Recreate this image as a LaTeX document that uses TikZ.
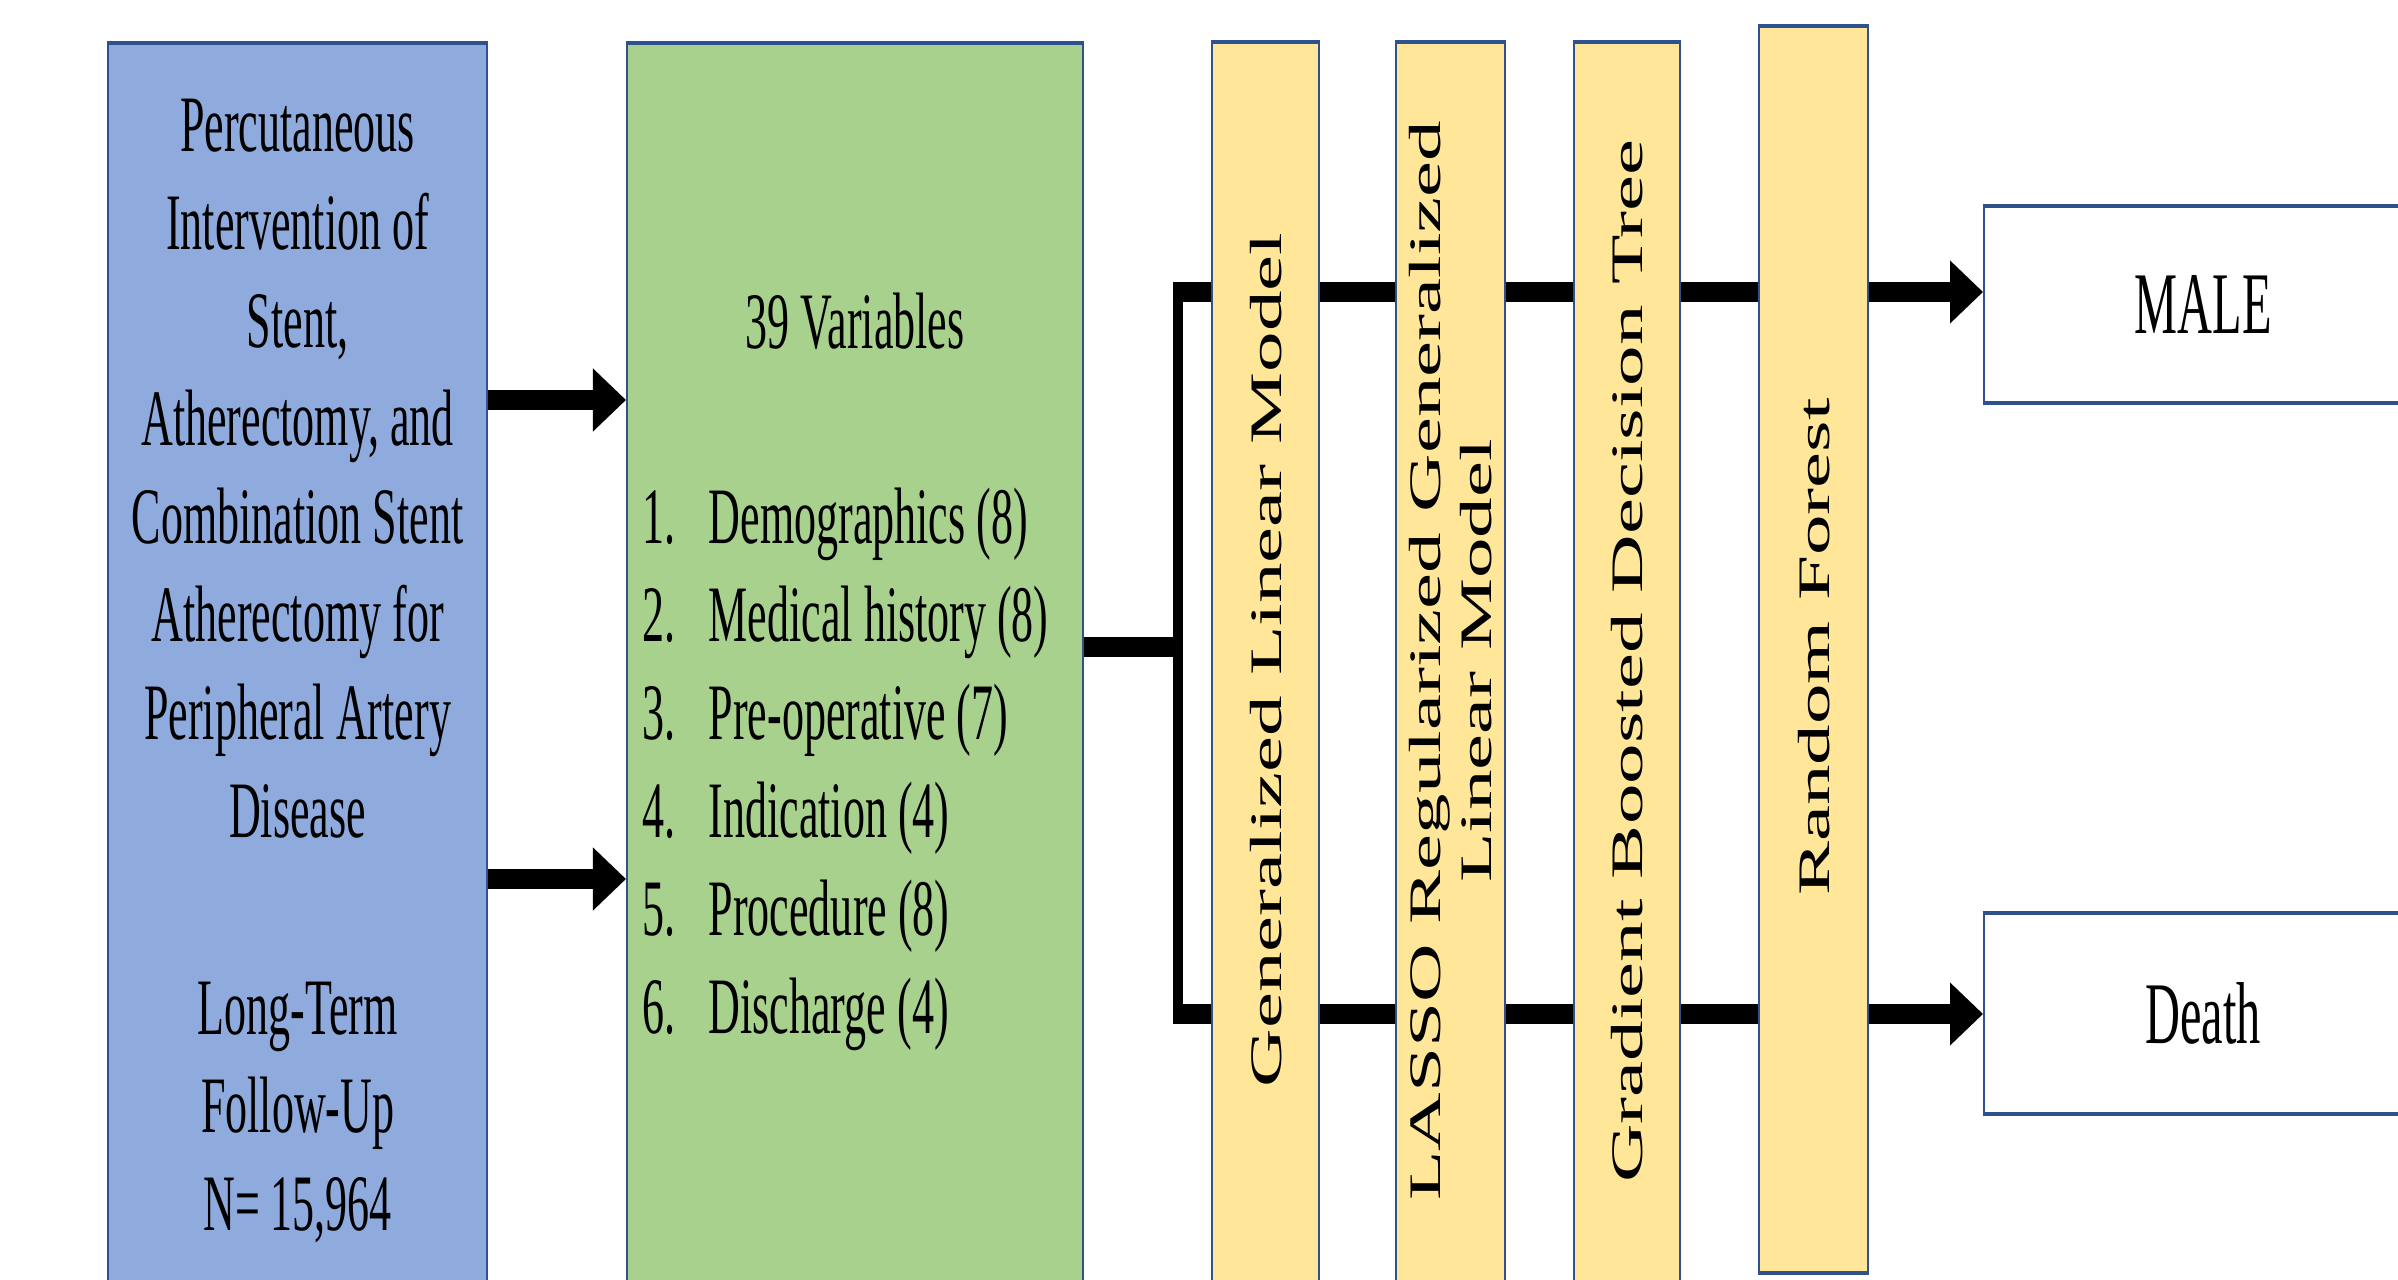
\documentclass[tikz,border=0pt]{standalone}
\usepackage{fontspec}
\setmainfont{Liberation Serif}
\newfontfamily\slimserif[FakeStretch=0.55]{Liberation Serif}
\newfontfamily\wideserif[FakeStretch=1.8]{Liberation Serif}
\usetikzlibrary{arrows.meta, positioning}
\definecolor{cohort-blue}{HTML}{8FAADC}
\definecolor{vars-green}{HTML}{A9D18E}
\definecolor{model-yellow}{HTML}{FFE699}
\definecolor{edge-blue}{HTML}{2F528F}

\begin{document}
\begin{tikzpicture}[
  x=0.01cm, y=-0.01cm,
  panel/.style={draw=edge-blue, line width=0.6pt, inner sep=0pt, anchor=north west},
  boxtext/.style={font=\fontsize{22.76}{27.9}\selectfont\slimserif, align=center, inner sep=0pt},
  modeltext/.style={font=\fontsize{12.8}{14.5}\selectfont\wideserif, rotate=90, align=center, inner sep=0pt},
  fat/.style={line width=0.2cm},
  arrow/.style={fat, -{Triangle[length=0.33cm, width=0.61cm]}}
]
  \useasboundingbox (0,0) rectangle (2398,1280);
  \clip (0,0) rectangle (2398,1280);

  % input and variables
  \node[panel, fill=cohort-blue, minimum width=3.79cm, minimum height=13cm] (cohort) at (107,43) {};
  \node[panel, fill=vars-green, minimum width=4.56cm, minimum height=13cm] (vars) at (626,43) {};
  \node[boxtext, anchor=north] (cohorttxt) at ([yshift=-0.55cm]cohort.north)
    {Percutaneous\\Intervention of\\Stent,\\Atherectomy, and\\Combination Stent\\Atherectomy for\\Peripheral Artery\\Disease\\[0.98cm]Long-Term\\Follow-Up\\N= 15,964};
  \node[boxtext, anchor=north] (varstitle) at ([yshift=-2.49cm]vars.north) {39 Variables};
  \node[boxtext, align=left, anchor=north west] (varslist) at (642,487)
    {\makebox[0.66cm][l]{1.}Demographics (8)\\
     \makebox[0.66cm][l]{2.}Medical history (8)\\
     \makebox[0.66cm][l]{3.}Pre-operative (7)\\
     \makebox[0.66cm][l]{4.}Indication (4)\\
     \makebox[0.66cm][l]{5.}Procedure (8)\\
     \makebox[0.66cm][l]{6.}Discharge (4)};

  % outcomes
  \node[panel, fill=white, minimum width=4.38cm, minimum height=1.95cm] (male) at (1983,206) {};
  \node[panel, fill=white, minimum width=4.38cm, minimum height=1.99cm] (death) at (1983,913) {};
  \node[boxtext, font=\fontsize{25}{30}\selectfont\slimserif] (maletxt) at (male.center) {MALE};
  \node[boxtext, font=\fontsize{25}{30}\selectfont\slimserif] (deathtxt) at (death.center) {Death};

  % connectors
  \coordinate (fork) at (1178,647);
  \coordinate (upper) at (1173,292);
  \coordinate (lower) at (1173,1014);
  \draw[arrow] (cohort.east |- 0,400) -- (vars.west |- 0,400);
  \draw[arrow] (cohort.east |- 0,879) -- (vars.west |- 0,879);
  \draw[fat] (vars.east |- fork) -- (fork);
  \draw[line width=0.1cm, shorten <=-0.095cm, shorten >=-0.1cm] (fork |- upper) -- (fork |- lower);
  \draw[arrow] (upper) -- (male.west |- upper);
  \draw[arrow] (lower) -- (death.west |- lower);

  % models
  \node[panel, fill=model-yellow, minimum width=1.07cm, minimum height=13cm] (glm) at (1211,42) {};
  \node[panel, fill=model-yellow, minimum width=1.09cm, minimum height=13cm] (lasso) at (1395,42) {};
  \node[panel, fill=model-yellow, minimum width=1.06cm, minimum height=13cm] (gbdt) at (1573,42) {};
  \node[panel, fill=model-yellow, minimum width=1.09cm, minimum height=12.44cm] (rf) at (1758,26) {};
  \node[modeltext] (glmtxt) at (glm.center |- 0,660) {Generalized Linear Model};
  \node[modeltext] (lassotxt) at (lasso.center |- 0,661) {LASSO Regularized Generalized\\Linear Model};
  \node[modeltext] (gbdttxt) at (gbdt.center |- 0,661) {Gradient Boosted Decision Tree};
  \node[modeltext] (rftxt) at (rf.center |- 0,647) {Random Forest};

  \foreach \n in {cohort, vars, male, death, glm, lasso, gbdt, rf}
    \draw[edge-blue, line width=0.04cm] (\n.north west) -- (\n.north east) (\n.south west) -- (\n.south east);
\end{tikzpicture}
\end{document}
